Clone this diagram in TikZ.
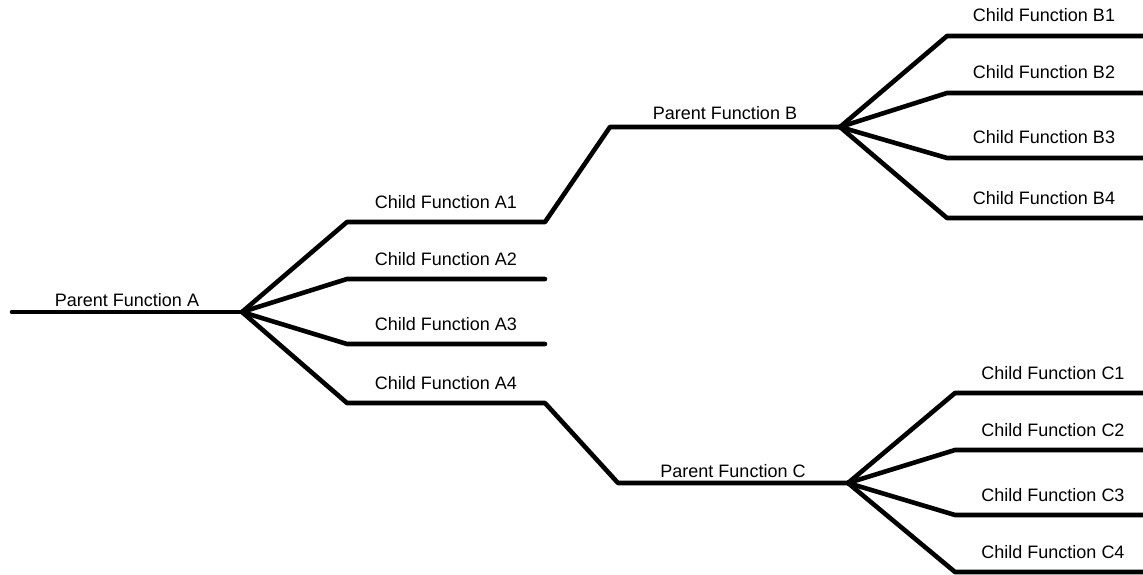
\documentclass[tikz,border=0pt]{standalone}
\usepackage{fontspec}
\setmainfont{Liberation Sans}
\begin{document}
\begin{tikzpicture}[x=1pt,y=-1pt,
  branch/.style={line width=4.6pt, line cap=round, line join=round},
  lbl/.style={font=\fontsize{18}{20}\selectfont, anchor=base, inner sep=0pt}]
\useasboundingbox (0,0) rectangle (1143,575);
\clip (0,0) rectangle (1143,575);
% coordinates
\coordinate (pA0) at (12,312);
\coordinate (pA) at (242,312);
\coordinate (a1s) at (347,222); \coordinate (a1e) at (545,222);
\coordinate (a2s) at (347,279); \coordinate (a2e) at (545,279);
\coordinate (a3s) at (347,344); \coordinate (a3e) at (545,344);
\coordinate (a4s) at (347,403); \coordinate (a4e) at (545,403);
\coordinate (pBs) at (610,127); \coordinate (pB) at (840,127);
\coordinate (pCs) at (618,483); \coordinate (pC) at (848,483);
\coordinate (b1s) at (947,36);  \coordinate (b1e) at (1155,36);
\coordinate (b2s) at (947,93);  \coordinate (b2e) at (1155,93);
\coordinate (b3s) at (947,158); \coordinate (b3e) at (1155,158);
\coordinate (b4s) at (947,218); \coordinate (b4e) at (1155,218);
\coordinate (c1s) at (955,393); \coordinate (c1e) at (1160,393);
\coordinate (c2s) at (955,450); \coordinate (c2e) at (1160,450);
\coordinate (c3s) at (955,515); \coordinate (c3e) at (1160,515);
\coordinate (c4s) at (955,572); \coordinate (c4e) at (1160,572);
% lines
\draw[branch] (pA0) -- (pA);
\draw[branch] (pA) -- (a1s) -- (a1e) -- (pBs) -- (pB);
\draw[branch] (pA) -- (a2s) -- (a2e);
\draw[branch] (pA) -- (a3s) -- (a3e);
\draw[branch] (pA) -- (a4s) -- (a4e) -- (pCs) -- (pC);
\draw[branch] (pB) -- (b1s) -- (b1e);
\draw[branch] (pB) -- (b2s) -- (b2e);
\draw[branch] (pB) -- (b3s) -- (b3e);
\draw[branch] (pB) -- (b4s) -- (b4e);
\draw[branch] (pC) -- (c1s) -- (c1e);
\draw[branch] (pC) -- (c2s) -- (c2e);
\draw[branch] (pC) -- (c3s) -- (c3e);
\draw[branch] (pC) -- (c4s) -- (c4e);
% labels
\node[lbl] (tA) at (127,306) {Parent Function A};
\node[lbl] (tB) at (725,120) {Parent Function B};
\node[lbl] (tC) at (733,477) {Parent Function C};
\node[lbl] (tA1) at (446,208) {Child Function A1};
\node[lbl] (tA2) at (446,265) {Child Function A2};
\node[lbl] (tA3) at (446,330) {Child Function A3};
\node[lbl] (tA4) at (446,389) {Child Function A4};
\node[lbl] (tB1) at (1044,22) {Child Function B1};
\node[lbl] (tB2) at (1044,79) {Child Function B2};
\node[lbl] (tB3) at (1044,144) {Child Function B3};
\node[lbl] (tB4) at (1044,204) {Child Function B4};
\node[lbl] (tC1) at (1053,379) {Child Function C1};
\node[lbl] (tC2) at (1053,436) {Child Function C2};
\node[lbl] (tC3) at (1053,501) {Child Function C3};
\node[lbl] (tC4) at (1053,558) {Child Function C4};
\end{tikzpicture}
\end{document}
